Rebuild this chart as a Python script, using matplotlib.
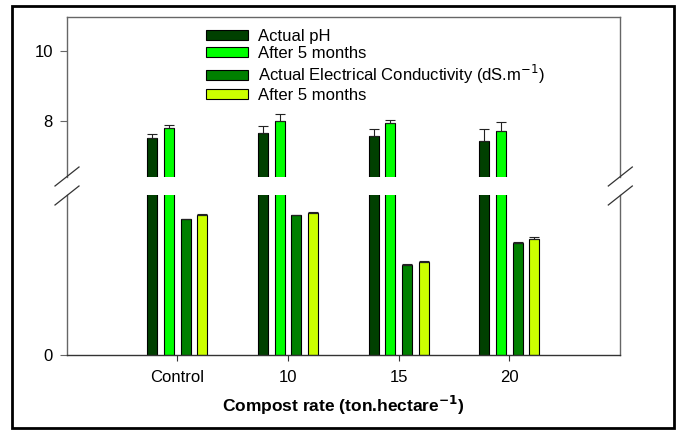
import matplotlib.pyplot as plt
from matplotlib.lines import Line2D
from matplotlib.patches import Rectangle
import numpy as np

plt.rcParams['font.family'] = ['Liberation Sans', 'DejaVu Sans']

# Dati
categorie = ['Control', '10', '15', '20']
ph_attuale = [7.52, 7.67, 7.57, 7.43]
ph_attuale_err = [0.12, 0.19, 0.19, 0.34]
ph_dopo = [7.81, 8.01, 7.94, 7.70]
ph_dopo_err = [0.07, 0.20, 0.10, 0.28]
ec_attuale = [3.39, 3.49, 2.24, 2.81]
ec_attuale_err = [0.01, 0.01, 0.03, 0.01]
ec_dopo = [3.50, 3.55, 2.33, 2.89]
ec_dopo_err = [0.02, 0.02, 0.01, 0.07]

etichette = ['Actual pH', 'After 5 months',
             'Actual Electrical Conductivity (dS.m$^{\\mathsf{-1}}$)', 'After 5 months']
colori = ['#004000', '#00ff00', '#008000', '#ccff00']

W, H = 679, 430
fig = plt.figure(figsize=(W / 100, H / 100), dpi=100)

def px(x0, y0, x1, y1):
    return [x0 / W, 1 - y1 / H, (x1 - x0) / W, (y1 - y0) / H]

ax_su = fig.add_axes(px(66.7, 16.7, 620, 176.7))
ax_giu = fig.add_axes(px(66.7, 195, 620, 354.7))

x = np.arange(len(categorie))
larg = 0.09
offset = [-0.225, -0.075, 0.075, 0.225]
serie = [(ph_attuale, ph_attuale_err), (ph_dopo, ph_dopo_err),
         (ec_attuale, ec_attuale_err), (ec_dopo, ec_dopo_err)]

grigio = '#666666'
for ax in (ax_su, ax_giu):
    for i, (val, err) in enumerate(serie):
        ax.bar(x + offset[i], val, larg, color=colori[i], edgecolor='black',
               linewidth=0.8, label=etichette[i], zorder=2)
        ax.errorbar(x + offset[i], val, yerr=[np.zeros(len(val)), err],
                    fmt='none', ecolor='#222222', elinewidth=0.8,
                    capsize=3.6, capthick=0.8, zorder=3)
    ax.set_xlim(-1, 4)
    for s in ax.spines.values():
        s.set_color(grigio)
        s.set_linewidth(1.0)
    ax.tick_params(axis='y', direction='out', length=5, color=grigio,
                   labelsize=12, pad=5)

ax_su.set_ylim(6.4, 11.0)
ax_su.set_yticks([8, 10])
ax_su.spines['bottom'].set_visible(False)
ax_su.set_xticks([])

ax_giu.set_ylim(0, 4)
ax_giu.set_yticks([0])
ax_giu.spines['top'].set_visible(False)
ax_giu.spines['bottom'].set_color('#333333')
ax_giu.set_xticks(x)
ax_giu.set_xticklabels(categorie)
ax_giu.tick_params(axis='x', direction='out', length=4.3, color='#333333',
                   labelsize=12, pad=7)
ax_giu.set_xlabel('Compost rate (ton.hectare$^{\\mathbf{-1}}$)', fontsize=12.5,
                  fontweight='bold', labelpad=6)

# Legenda
h, l = ax_su.get_legend_handles_labels()
fig.legend(h[:4], l[:4], loc='upper left', bbox_to_anchor=(206 / W, 1 - 29 / H),
           frameon=False, fontsize=12, handlelength=2.5, handleheight=0.55,
           handletextpad=0.65, labelspacing=0.12, borderpad=0, borderaxespad=0)

# Segni di interruzione dell'asse
for xs in (55, 608.3):
    for y0 in (186, 205):
        fig.add_artist(Line2D([xs / W, (xs + 24) / W],
                              [1 - y0 / H, 1 - (y0 - 19) / H],
                              color='#333333', linewidth=0.9))

# Cornice esterna
fig.add_artist(Rectangle((12 / W, 1 - 428 / H), 662 / W, 422 / H,
                         transform=fig.transFigure, fill=False,
                         edgecolor='black', linewidth=2))

fig.savefig('out.png', dpi=100)
